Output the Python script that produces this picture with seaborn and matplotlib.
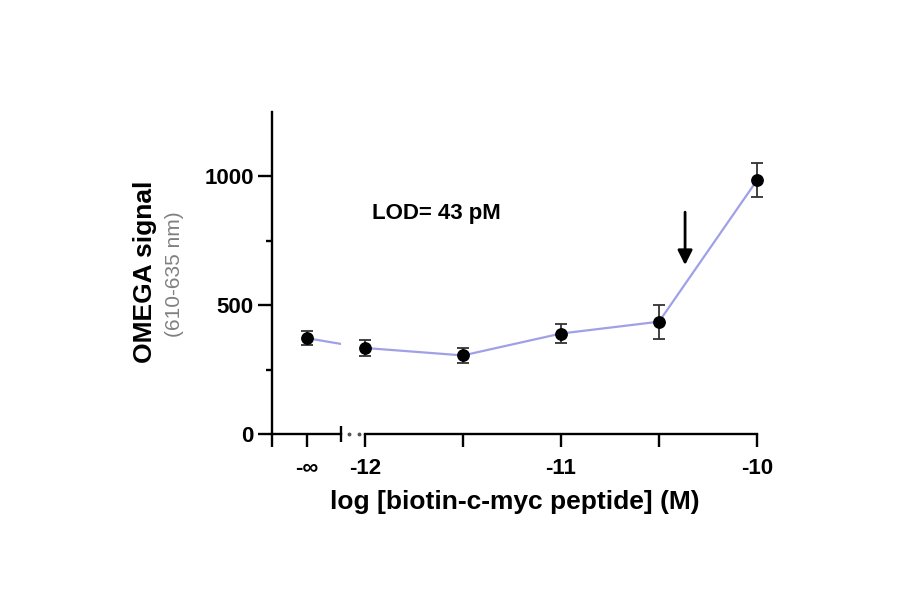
import numpy as np
import pandas as pd
import seaborn as sns
import matplotlib.pyplot as plt

# values
blank_label = "-∞"
blank_signal = 372
blank_sd = 28
log_conc = [-12.0, -11.5, -11.0, -10.5, -10.0]
signal = [334, 305, 390, 436, 985]
sd = [30, 30, 38, 66, 66]
major_x = [-12, -11, -10]
major_x_labels = ["-12", "-11", "-10"]
minor_x = [-11.5, -10.5]
y_ticks = [0, 500, 1000]
y_minor = [250, 750]
lod_text = "LOD= 43 pM"
lod_arrow_x = -10.367

sns.set_style("ticks")
plt.rcParams["font.family"] = ["Liberation Sans", "DejaVu Sans"]
plt.rcParams["text.color"] = "black"
plt.rcParams["xtick.labelcolor"] = "black"
plt.rcParams["ytick.labelcolor"] = "black"

# the blank (-inf) sits left of the axis break
blank_pos = -12.296
df = pd.DataFrame({"x": [blank_pos] + log_conc, "y": [blank_signal] + signal})

fig = plt.figure(figsize=(9, 5.94), dpi=100)
bottom, height = 1 - 434 / 594, 322 / 594
ax_l = fig.add_axes([272 / 900, bottom, 69 / 900, height])
ax_r = fig.add_axes([365 / 900, bottom, 392 / 900, height])

line_color = "#a0a0e8"
for ax in (ax_l, ax_r):
    sns.lineplot(data=df, x="x", y="y", ax=ax, color=line_color, linewidth=1.6, sort=False)
    ax.set_ylim(0, 1250)
    ax.set_xlabel("")
    ax.set_ylabel("")
    for s in ("top", "right"):
        ax.spines[s].set_visible(False)
    for s in ("left", "bottom"):
        ax.spines[s].set_linewidth(1.7)
        ax.spines[s].set_color("black")
    ax.tick_params(axis="both", which="both", width=1.7, color="black", labelsize=16,
                   labelcolor="black")

ax_l.set_xlim(-12.474, -12.122)
ax_r.set_xlim(-12, -10)

# error bars + points
eb = dict(fmt="o", color="black", ecolor="#333333", markersize=8.2, capsize=4.5,
          elinewidth=1.3, capthick=1.3, clip_on=False, zorder=5)
ax_l.errorbar([blank_pos], [blank_signal], yerr=[blank_sd], **eb)
ax_r.errorbar(log_conc, signal, yerr=sd, **eb)

# left axis: y ticks and blank tick
ax_l.set_yticks(y_ticks)
ax_l.set_yticks(y_minor, minor=True)
ax_l.set_yticklabels([str(v) for v in y_ticks], fontweight="bold")
ax_l.tick_params(axis="y", which="major", length=10, pad=3)
ax_l.tick_params(axis="y", which="minor", length=4)
ax_l.set_xticks([-12.474, blank_pos])
ax_l.set_xticklabels(["", blank_label], fontweight="bold")
ax_l.set_xticks([-12.122], minor=True)
ax_l.tick_params(axis="x", which="major", length=9, pad=8)
ax_l.tick_params(axis="x", which="minor", direction="inout", length=12)

# right axis: no y spine
ax_r.spines["left"].set_visible(False)
ax_r.set_yticks([])
ax_r.set_xticks(major_x)
ax_r.set_xticklabels(major_x_labels, fontweight="bold")
ax_r.set_xticks(minor_x, minor=True)
ax_r.tick_params(axis="x", which="major", length=9, pad=8)
ax_r.tick_params(axis="x", which="minor", length=9)
ax_r.plot([-16 / 392, -6 / 392], [0, 0], linestyle="none", marker="o", markersize=1.8,
          color="#555555", transform=ax_r.transAxes, clip_on=False)

# annotations
ax_r.text(-11.965, 857, lod_text, fontsize=16, fontweight="bold", va="center", ha="left")
ax_r.annotate("", xy=(lod_arrow_x, 645), xytext=(lod_arrow_x, 872),
              arrowprops=dict(arrowstyle="-|>", color="black", lw=2, mutation_scale=22))

fig.text(145 / 900, 1 - 272 / 594, "OMEGA signal", rotation=90, fontsize=19,
         fontweight="bold", ha="center", va="center")
fig.text(175 / 900, 1 - 274 / 594, "(610-635 nm)", rotation=90, fontsize=15,
         color="#808080", ha="center", va="center")
fig.text(515 / 900, 1 - 502 / 594, "log [biotin-c-myc peptide] (M)", fontsize=19,
         fontweight="bold", ha="center", va="center")

fig.savefig("out.png", dpi=100)
